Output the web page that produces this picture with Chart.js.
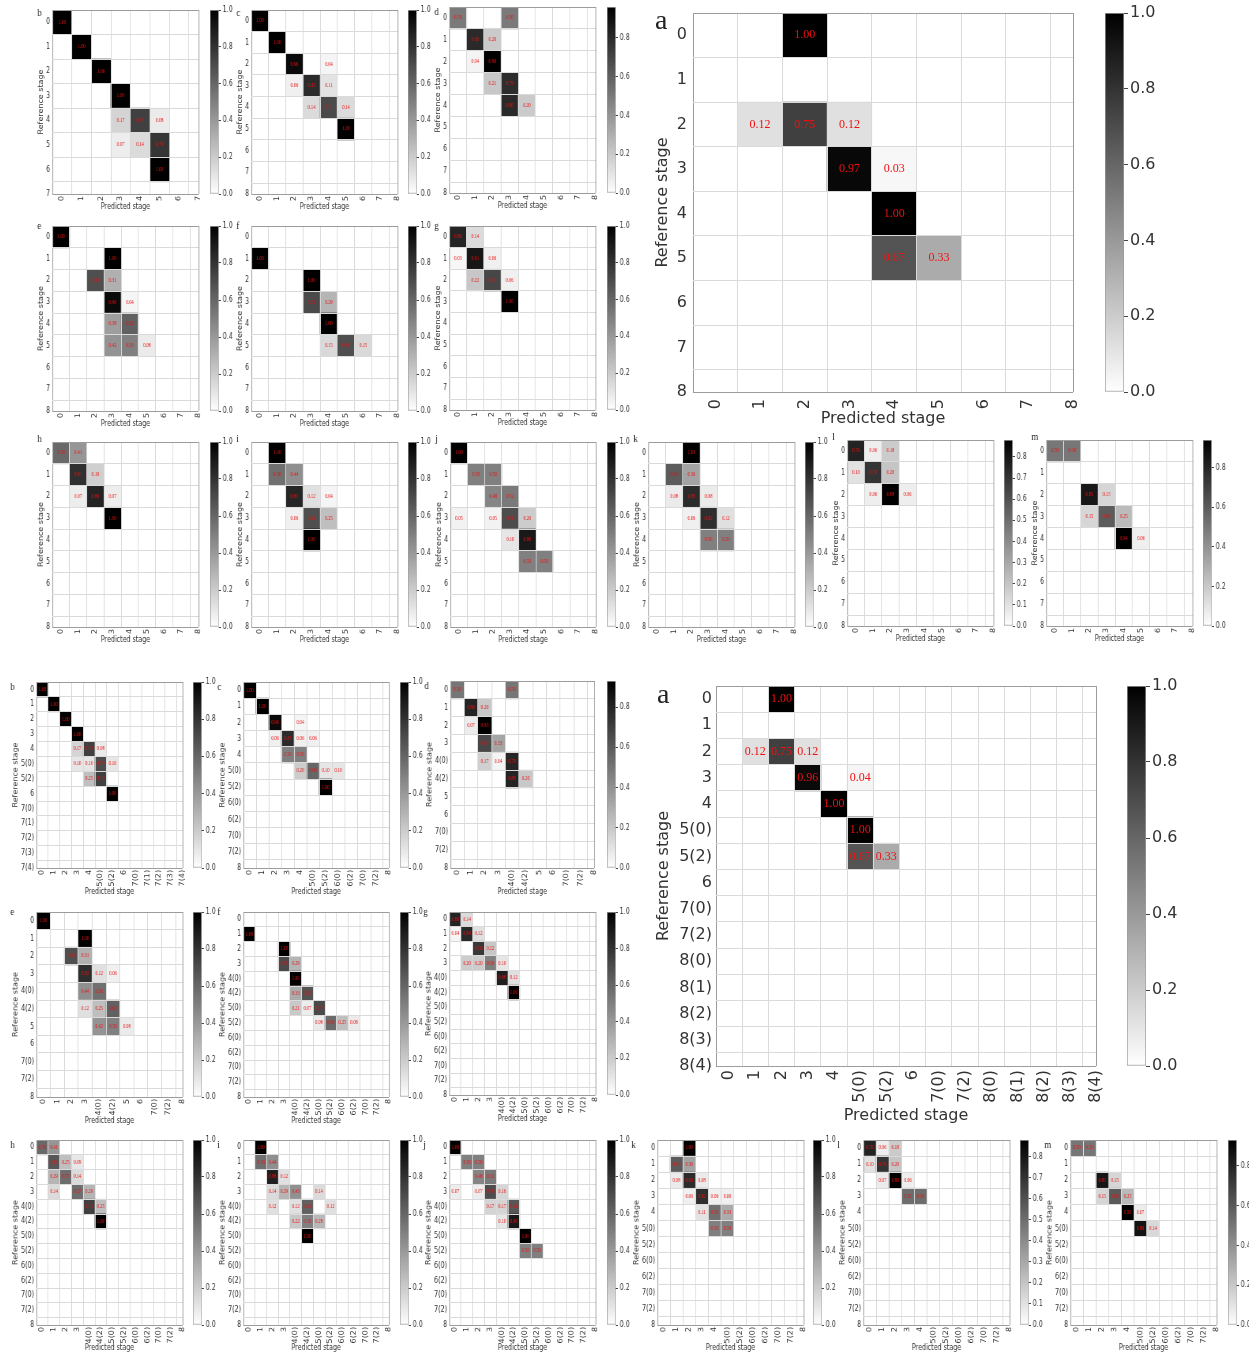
<!DOCTYPE html>
<html>
<head>
<meta charset="utf-8">
<title>Confusion matrices of predicted vs reference stage</title>
<script src="https://cdn.jsdelivr.net/npm/chart.js"></script>
<style>
  html, body { margin: 0; padding: 0; background: #fff; }
  #fig { position: relative; width: 1249px; height: 1353px; overflow: hidden; background: #fff; }
  #fig canvas { position: absolute; }
</style>
</head>
<body>
<div id="fig"></div>
<script>
// stage tick labels (rows = reference stage, cols = predicted stage)
const stages8 = ['0', '1', '2', '3', '4', '5', '6', '7'];
const stages9 = ['0', '1', '2', '3', '4', '5', '6', '7', '8'];
const stagesBigB = ['0', '1', '2', '3', '4', '5(0)', '5(2)', '6', '7(0)', '7(2)', '8(0)', '8(1)', '8(2)', '8(3)', '8(4)'];
const stagesB = ['0', '1', '2', '3', '4', '5(0)', '5(2)', '6', '7(0)', '7(1)', '7(2)', '7(3)', '7(4)'];
const stagesC = ['0', '1', '2', '3', '4', '5(0)', '5(2)', '6(0)', '6(2)', '7(0)', '7(2)', '8'];
const stagesD = ['0', '1', '2', '3', '4(0)', '4(2)', '5', '6', '7(0)', '7(2)', '8'];
const stagesF = ['0', '1', '2', '3', '4(0)', '4(2)', '5(0)', '5(2)', '6(0)', '6(2)', '7(0)', '7(2)', '8'];

// colorbar tick labels
const cbTicks = [0, 0.2, 0.4, 0.6, 0.8, 1.0];
const cbTicksFine = [0, 0.1, 0.2, 0.3, 0.4, 0.5, 0.6, 0.7, 0.8];

// non-empty cells: [reference row, predicted col, value]
const topA = [[0,2,1.00],[2,1,0.12],[2,2,0.75],[2,3,0.12],[3,3,0.97],[3,4,0.03],[4,4,1.00],[5,4,0.67],[5,5,0.33]];
const topB = [[0,0,1.00],[1,1,1.00],[2,2,1.00],[3,3,1.00],[4,3,0.17],[4,4,0.75],[4,5,0.08],[5,3,0.07],[5,4,0.14],[5,5,0.79],[6,5,1.00]];
const topC = [[0,0,1.00],[1,1,1.00],[2,2,0.96],[2,4,0.04],[3,2,0.06],[3,3,0.83],[3,4,0.11],[4,3,0.14],[4,4,0.71],[4,5,0.14],[5,5,1.00]];
const topD = [[0,0,0.50],[0,3,0.50],[1,1,0.80],[1,2,0.20],[2,1,0.04],[2,2,0.96],[3,2,0.21],[3,3,0.79],[4,3,0.80],[4,4,0.20]];
const topE = [[0,0,1.00],[1,3,1.00],[2,2,0.69],[2,3,0.31],[3,3,0.96],[3,4,0.04],[4,3,0.38],[4,4,0.62],[5,3,0.42],[5,4,0.50],[5,5,0.08]];
const topF = [[1,0,1.00],[2,3,1.00],[3,3,0.71],[3,4,0.29],[4,4,1.00],[5,4,0.15],[5,5,0.69],[5,6,0.15]];
const topG = [[0,0,0.86],[0,1,0.14],[1,0,0.03],[1,1,0.91],[1,2,0.06],[2,1,0.22],[2,2,0.72],[2,3,0.06],[3,3,1.00]];
const topH = [[0,0,0.59],[0,1,0.41],[1,1,0.81],[1,2,0.19],[2,1,0.07],[2,2,0.86],[2,3,0.07],[3,3,1.00]];
const topI = [[0,1,1.00],[1,1,0.56],[1,2,0.44],[2,2,0.85],[2,3,0.12],[2,4,0.04],[3,2,0.06],[3,3,0.69],[3,4,0.25],[4,3,1.00]];
const topJ = [[0,0,1.00],[1,1,0.50],[1,2,0.50],[2,2,0.48],[2,3,0.52],[3,0,0.05],[3,2,0.05],[3,3,0.70],[3,4,0.20],[4,3,0.10],[4,4,0.90],[5,4,0.50],[5,5,0.50]];
const topK = [[0,2,1.00],[1,1,0.64],[1,2,0.36],[2,1,0.08],[2,2,0.83],[2,3,0.08],[3,2,0.06],[3,3,0.82],[3,4,0.12],[4,3,0.50],[4,4,0.50]];
const topL = [[0,0,0.76],[0,1,0.06],[0,2,0.18],[1,0,0.10],[1,1,0.70],[1,2,0.20],[2,1,0.06],[2,2,0.88],[2,3,0.06]];
const topM = [[0,0,0.50],[0,1,0.50],[2,2,0.85],[2,3,0.15],[3,2,0.15],[3,3,0.60],[3,4,0.25],[4,4,0.94],[4,5,0.06]];

const botA = [[0,2,1.00],[2,1,0.12],[2,2,0.75],[2,3,0.12],[3,3,0.96],[3,5,0.04],[4,4,1.00],[5,5,1.00],[6,5,0.67],[6,6,0.33]];
const botB = [[0,0,1.00],[1,1,1.00],[2,2,1.00],[3,3,1.00],[4,3,0.17],[4,4,0.75],[4,5,0.08],[5,3,0.10],[5,4,0.10],[5,5,0.70],[5,6,0.10],[6,4,0.25],[6,5,0.75],[7,6,1.00]];
const botC = [[0,0,1.00],[1,1,1.00],[2,2,0.96],[2,4,0.04],[3,2,0.06],[3,3,0.83],[3,4,0.06],[3,5,0.06],[4,3,0.50],[4,4,0.50],[5,4,0.20],[5,5,0.60],[5,6,0.10],[5,7,0.10],[6,6,1.00]];
const botD = [[0,0,0.50],[0,4,0.50],[1,1,0.80],[1,2,0.20],[2,1,0.07],[2,2,0.93],[3,2,0.67],[3,3,0.33],[4,2,0.17],[4,3,0.04],[4,4,0.79],[5,4,0.80],[5,5,0.20]];
const botE = [[0,0,1.00],[1,3,1.00],[2,2,0.69],[2,3,0.31],[3,3,0.82],[3,4,0.12],[3,5,0.06],[4,3,0.44],[4,4,0.56],[5,3,0.12],[5,4,0.25],[5,5,0.62],[6,4,0.42],[6,5,0.50],[6,6,0.08]];
const botF = [[1,0,1.00],[2,3,1.00],[3,3,0.71],[3,4,0.29],[4,4,1.00],[5,4,0.33],[5,5,0.67],[6,4,0.21],[6,5,0.07],[6,6,0.71],[7,6,0.08],[7,7,0.58],[7,8,0.25],[7,9,0.08]];
const botG = [[0,0,0.86],[0,1,0.14],[1,0,0.04],[1,1,0.84],[1,2,0.12],[2,2,0.78],[2,3,0.22],[3,1,0.20],[3,2,0.20],[3,3,0.50],[3,4,0.10],[4,4,0.88],[4,5,0.12],[5,5,1.00]];
const botH = [[0,0,0.59],[0,1,0.41],[1,1,0.66],[1,2,0.25],[1,3,0.09],[2,1,0.29],[2,2,0.57],[2,3,0.14],[3,1,0.14],[3,3,0.57],[3,4,0.29],[4,4,0.75],[4,5,0.25],[5,5,1.00]];
const botI = [[0,1,1.00],[1,1,0.56],[1,2,0.44],[2,2,0.88],[2,3,0.12],[3,2,0.14],[3,3,0.29],[3,4,0.43],[3,6,0.14],[4,2,0.12],[4,4,0.12],[4,5,0.62],[4,7,0.12],[5,4,0.22],[5,5,0.50],[5,6,0.28],[6,5,1.00]];
const botJ = [[0,0,1.00],[1,1,0.50],[1,2,0.50],[2,2,0.48],[2,3,0.52],[3,0,0.07],[3,2,0.07],[3,3,0.70],[3,4,0.16],[4,3,0.17],[4,4,0.17],[4,5,0.66],[5,4,0.10],[5,5,0.90],[6,6,1.00],[7,6,0.50],[7,7,0.50]];
const botK = [[0,2,1.00],[1,1,0.64],[1,2,0.36],[2,1,0.08],[2,2,0.83],[2,3,0.08],[3,2,0.06],[3,3,0.82],[3,4,0.06],[3,5,0.06],[4,3,0.11],[4,4,0.56],[4,5,0.33],[5,4,0.50],[5,5,0.50]];
const botL = [[0,0,0.76],[0,1,0.06],[0,2,0.18],[1,0,0.10],[1,1,0.70],[1,2,0.20],[2,1,0.07],[2,2,0.88],[2,3,0.06],[3,3,0.50],[3,4,0.50]];
const botM = [[0,0,0.50],[0,1,0.50],[2,2,0.85],[2,3,0.15],[3,2,0.15],[3,3,0.60],[3,4,0.25],[4,4,0.93],[4,5,0.07],[5,5,0.86],[5,6,0.14]];

// the small panels are squeezed horizontally in the figure
const SX = 0.79;

const kinds = {
  top:    {sx: SX, padL: 22, padT: 10, padR: 8, padB: 20, font: 8, yTickPad: 3, xTickPad: 2, yTitlePad: 3, xTitlePad: 2, cellFont: 5.5, letterFont: 11, letterX: 3, cbW: 11, cbLab: 26, cbPad: 6, cbTick: 3},
  bottom: {sx: SX, padL: 36, padT: 10, padR: 8, padB: 30, font: 8, yTickPad: 3, xTickPad: 2, yTitlePad: 5, xTitlePad: 1, cellFont: 5.5, letterFont: 11, letterX: 3, cbW: 11, cbLab: 26, cbPad: 6, cbTick: 3},
  last:   {sx: SX, padL: 36, padT: 10, padR: 8, padB: 28, font: 8, yTickPad: 3, xTickPad: 2, yTitlePad: 5, xTitlePad: 0, cellFont: 5.5, letterFont: 11, letterX: 3, cbW: 11, cbLab: 26, cbPad: 6, cbTick: 3},
  bigTop: {sx: 1, padL: 50, padT: 10, padR: 14, padB: 40, font: 16, yTickPad: 6, xTickPad: 7, yTitlePad: 10, xTitlePad: 4, cellFont: 12, letterFont: 28, letterX: 12, cbW: 19, cbLab: 50, cbPad: 10, cbTick: 4},
  bigBot: {sx: 1, padL: 70, padT: 10, padR: 14, padB: 62, font: 16, yTickPad: 4, xTickPad: 4, yTitlePad: 8, xTitlePad: 3, cellFont: 12, letterFont: 28, letterX: 11, cbW: 19, cbLab: 50, cbPad: 10, cbTick: 4}
};

const panels = [
  {letter: 'a', rows: stages9, cells: topA, kind: 'bigTop', x: 693, y: 13, w: 380, h: 379, cb: 1105, dy: 16},
  {letter: 'b', rows: stages8, cells: topB, kind: 'top', x: 52, y: 10, w: 146, h: 184, cb: 210, dy: 6},
  {letter: 'c', rows: stages9, cells: topC, kind: 'top', x: 251, y: 10, w: 146, h: 184, cb: 408, dy: 6},
  {letter: 'd', rows: stages9, cells: topD, kind: 'top', x: 449, y: 7, w: 146, h: 186, cb: 607, dy: 8},
  {letter: 'e', rows: stages9, cells: topE, kind: 'top', x: 52, y: 226, w: 146, h: 185, cb: 210, dy: 3},
  {letter: 'f', rows: stages9, cells: topF, kind: 'top', x: 251, y: 226, w: 146, h: 185, cb: 408, dy: 3},
  {letter: 'g', rows: stages9, cells: topG, kind: 'top', x: 449, y: 226, w: 146, h: 184, cb: 607, dy: 3},
  {letter: 'h', rows: stages9, cells: topH, kind: 'top', x: 52, y: 442, w: 146, h: 185, cb: 210, dy: 0},
  {letter: 'i', rows: stages9, cells: topI, kind: 'top', x: 251, y: 442, w: 146, h: 185, cb: 408, dy: 0},
  {letter: 'j', rows: stages9, cells: topJ, kind: 'top', x: 450, y: 442, w: 145, h: 185, cb: 607, dy: 0},
  {letter: 'k', rows: stages9, cells: topK, kind: 'top', x: 648, y: 442, w: 146, h: 185, cb: 805, dy: 0},
  {letter: 'l', rows: stages9, cells: topL, kind: 'top', x: 847, y: 440, w: 146, h: 186, cb: 1004, dy: 0, fine: true},
  {letter: 'm', rows: stages9, cells: topM, kind: 'top', x: 1046, y: 440, w: 146, h: 186, cb: 1203, dy: 0},

  {letter: 'a', rows: stagesBigB, cells: botA, kind: 'bigBot', x: 716, y: 686, w: 380, h: 380, cb: 1127, dy: 17},
  {letter: 'b', rows: stagesB, cells: botB, kind: 'bottom', x: 36, y: 682, w: 146, h: 186, cb: 193, dy: 8},
  {letter: 'c', rows: stagesC, cells: botC, kind: 'bottom', x: 243, y: 682, w: 145, h: 186, cb: 400, dy: 8},
  {letter: 'd', rows: stagesD, cells: botD, kind: 'bottom', x: 450, y: 681, w: 144, h: 187, cb: 607, dy: 8},
  {letter: 'e', rows: stagesD, cells: botE, kind: 'bottom', x: 36, y: 912, w: 146, h: 185, cb: 193, dy: 3},
  {letter: 'f', rows: stagesF, cells: botF, kind: 'bottom', x: 243, y: 912, w: 145, h: 185, cb: 400, dy: 3},
  {letter: 'g', rows: stagesF, cells: botG, kind: 'bottom', x: 449, y: 912, w: 146, h: 183, cb: 607, dy: 3},
  {letter: 'h', rows: stagesF, cells: botH, kind: 'last', x: 36, y: 1140, w: 146, h: 185, cb: 193, dy: 8},
  {letter: 'i', rows: stagesF, cells: botI, kind: 'last', x: 243, y: 1140, w: 145, h: 185, cb: 400, dy: 8},
  {letter: 'j', rows: stagesF, cells: botJ, kind: 'last', x: 449, y: 1140, w: 146, h: 185, cb: 607, dy: 8},
  {letter: 'k', rows: stagesC, cells: botK, kind: 'last', x: 657, y: 1140, w: 146, h: 185, cb: 813, dy: 8},
  {letter: 'l', rows: stagesC, cells: botL, kind: 'last', x: 863, y: 1140, w: 146, h: 185, cb: 1020, dy: 8, fine: true},
  {letter: 'm', rows: stagesC, cells: botM, kind: 'last', x: 1070, y: 1140, w: 146, h: 185, cb: 1228, dy: 8}
];

function gray(v, vmax) {
  const s = Math.round(255 * (1 - Math.min(v / vmax, 1)));
  return `rgb(${s},${s},${s})`;
}

function addCanvas(left, top, w, h, sx) {
  const c = document.createElement('canvas');
  c.width = Math.round(w);
  c.height = Math.round(h);
  c.style.left = left + 'px';
  c.style.top = top + 'px';
  if (sx !== 1) {
    c.style.transformOrigin = '0 0';
    c.style.transform = `scaleX(${sx})`;
  }
  document.getElementById('fig').appendChild(c);
  return c;
}

// fixed axis sizes, and no extra room asked for the edge labels
function fixHeight(h) {
  return s => { s.height = h; s.paddingLeft = 0; s.paddingRight = 0; };
}
function fixWidth(w) {
  return s => { s.width = w; s.paddingTop = 0; s.paddingBottom = 0; };
}

// red value printed in the middle of every cell
const cellText = {
  id: 'cellText',
  afterDraw(chart, args, opts) {
    const meta = chart.getDatasetMeta(0);
    const data = chart.data.datasets[0].data;
    const ctx = chart.ctx;
    ctx.save();
    ctx.font = `${opts.size}px "Liberation Serif", serif`;
    ctx.fillStyle = '#f01010';
    ctx.textAlign = 'center';
    ctx.textBaseline = 'middle';
    meta.data.forEach((bar, i) => {
      ctx.fillText(data[i].v.toFixed(2), bar.x, (bar.y + bar.base) / 2);
    });
    ctx.restore();
  }
};

const panelLetter = {
  id: 'panelLetter',
  afterDraw(chart, args, opts) {
    const ctx = chart.ctx;
    ctx.save();
    ctx.font = `${opts.size}px "Liberation Serif", serif`;
    ctx.fillStyle = '#222';
    ctx.textBaseline = 'alphabetic';
    ctx.fillText(opts.text, opts.x, chart.chartArea.top + opts.dy);
    ctx.restore();
  }
};

function heatmap(p) {
  const k = kinds[p.kind];
  const n = p.rows.length;
  const vmax = Math.max(...p.cells.map(c => c[2]));
  const W = k.padL + p.w / k.sx + k.padR;
  const H = k.padT + p.h + k.padB;
  const canvas = addCanvas(p.x - k.padL * k.sx, p.y - k.padT, W, H, k.sx);

  const edges = p.rows.map((_, i) => i - 0.5);
  edges.push(n - 1);
  const font = {family: 'DejaVu Sans', size: k.font};
  const gridColor = c => (c.tick && (c.tick.value === -0.5 || c.tick.value === n - 1)) ? '#9c9c9c' : '#dadada';
  const centers = s => { s.ticks = p.rows.map((_, i) => ({value: i})); };
  const bounds = s => { s.ticks = edges.map(v => ({value: v})); };

  new Chart(canvas, {
    type: 'bar',
    data: {
      datasets: [{
        data: p.cells.map(([r, c, v]) => ({x: c, y: [r - 0.5, r + 0.5], v})),
        backgroundColor: c => c.raw ? gray(c.raw.v, vmax) : '#fff',
        borderWidth: 0,
        categoryPercentage: 1,
        barPercentage: 1,
        clip: 0,
        xAxisID: 'x',
        yAxisID: 'y'
      }]
    },
    options: {
      responsive: false,
      animation: false,
      events: [],
      layout: {padding: {left: 0, top: k.padT, right: k.padR, bottom: 0}},
      plugins: {
        legend: {display: false},
        tooltip: {enabled: false},
        cellText: {size: k.cellFont},
        panelLetter: {text: p.letter, size: k.letterFont, x: k.letterX, dy: p.dy}
      },
      scales: {
        x: {
          type: 'linear', position: 'bottom', min: -0.5, max: n - 1, offset: false,
          afterBuildTicks: centers,
          afterFit: fixHeight(k.padB),
          grid: {display: false, drawTicks: false, offset: false},
          border: {display: false},
          ticks: {autoSkip: false, minRotation: 90, maxRotation: 90, padding: k.xTickPad, font, color: '#333',
                  callback: (v, i) => p.rows[i]},
          title: {display: true, text: 'Predicted stage', font, color: '#333', padding: {top: 0, bottom: k.xTitlePad}}
        },
        y: {
          type: 'linear', position: 'left', reverse: true, min: -0.5, max: n - 1,
          afterBuildTicks: centers,
          afterFit: fixWidth(k.padL),
          grid: {display: false, drawTicks: false},
          border: {display: false},
          ticks: {autoSkip: false, padding: k.yTickPad, font, color: '#333', callback: (v, i) => p.rows[i]},
          title: {display: true, text: 'Reference stage', font, color: '#333', padding: {top: k.yTitlePad, bottom: 0}}
        },
        xg: {
          type: 'linear', axis: 'x', position: 'top', min: -0.5, max: n - 1, offset: false,
          afterBuildTicks: bounds,
          afterFit: fixHeight(0),
          ticks: {display: false},
          grid: {z: 1, offset: false, drawTicks: false, color: gridColor, lineWidth: 1},
          border: {display: false}
        },
        yg: {
          type: 'linear', axis: 'y', position: 'right', reverse: true, min: -0.5, max: n - 1,
          afterBuildTicks: bounds,
          afterFit: fixWidth(0),
          ticks: {display: false},
          grid: {z: 1, drawTicks: false, color: gridColor, lineWidth: 1},
          border: {display: false}
        }
      }
    },
    plugins: [cellText, panelLetter]
  });
  return vmax;
}

function colorbar(p, vmax) {
  const k = kinds[p.kind];
  const W = k.cbW + k.cbLab;
  const H = p.h + 2 * k.cbPad;
  const canvas = addCanvas(p.cb, p.y - k.cbPad, W, H, k.sx);
  const ticks = (p.fine ? cbTicksFine : cbTicks).filter(t => t <= vmax + 1e-9);
  const font = {family: 'DejaVu Sans', size: k.font};

  new Chart(canvas, {
    type: 'bar',
    data: {
      labels: [''],
      datasets: [{
        data: [[0, vmax]],
        backgroundColor: c => {
          const chart = c.chart;
          const ys = chart.scales.y;
          if (!chart.chartArea || !ys) return '#888';
          const g = chart.ctx.createLinearGradient(0, ys.getPixelForValue(0), 0, ys.getPixelForValue(vmax));
          g.addColorStop(0, '#ffffff');
          g.addColorStop(1, '#000000');
          return g;
        },
        borderColor: '#9c9c9c',
        borderWidth: 1,
        borderSkipped: false,
        categoryPercentage: 1,
        barPercentage: 1
      }]
    },
    options: {
      responsive: false,
      animation: false,
      events: [],
      layout: {padding: {left: 0, right: 0, top: k.cbPad, bottom: k.cbPad}},
      plugins: {legend: {display: false}, tooltip: {enabled: false}},
      scales: {
        x: {display: false},
        y: {
          position: 'right', min: 0, max: vmax,
          afterBuildTicks: s => { s.ticks = ticks.map(v => ({value: v})); },
          afterFit: fixWidth(k.cbLab),
          grid: {drawOnChartArea: false, drawTicks: true, tickLength: k.cbTick, color: '#444'},
          border: {display: false},
          ticks: {padding: 2, font, color: '#333', callback: v => v.toFixed(1)}
        }
      }
    }
  });
}

panels.forEach(p => {
  const vmax = heatmap(p);
  colorbar(p, vmax);
});
</script>
</body>
</html>
